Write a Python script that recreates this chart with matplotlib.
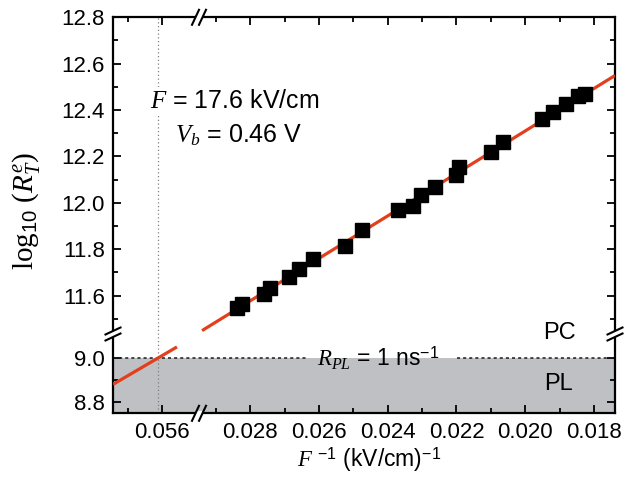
import numpy as np
import matplotlib
matplotlib.use('Agg')
import matplotlib.pyplot as plt
from matplotlib.ticker import FixedLocator, FormatStrFormatter

plt.rcParams['font.family'] = ['Liberation Sans', 'DejaVu Sans']
plt.rcParams['mathtext.fontset'] = 'custom'
plt.rcParams['mathtext.rm'] = 'Liberation Serif'
plt.rcParams['mathtext.it'] = 'Liberation Serif:italic'
plt.rcParams['mathtext.sf'] = 'Liberation Sans'
plt.rcParams['mathtext.bf'] = 'Liberation Serif:bold'

# ---------------- data ----------------
inv_field = [0.028378, 0.028233, 0.027593, 0.027433, 0.026866, 0.026590,
             0.026169, 0.025253, 0.024744, 0.023698, 0.023262, 0.023044,
             0.022622, 0.022026, 0.021924, 0.020994, 0.020660, 0.019512,
             0.019192, 0.018801, 0.018452, 0.018262]
log_rate = [11.545, 11.564, 11.605, 11.631, 11.681, 11.716,
            11.757, 11.815, 11.884, 11.971, 11.986, 12.032,
            12.068, 12.118, 12.153, 12.218, 12.261, 12.361,
            12.393, 12.426, 12.462, 12.469]

fit_slope = -91.6
fit_intercept = 14.142
fit_x_upper = [0.0294, 0.01739]
fit_x_lower = [0.05743, 0.05557]
R_PL_level = 9.0

x_segments = [(0.01739, 0.02946), (0.0549, 0.05743)]
x_rates = [34400, 34400]
y_segments = [(8.75, 9.106), (11.43, 12.8)]
y_rates = [220, 232]

x_major = [0.056, 0.028, 0.026, 0.024, 0.022, 0.020, 0.018]
x_minor = [0.057, 0.029, 0.027, 0.025, 0.023, 0.021, 0.019]
y_major = [8.8, 9.0, 11.6, 11.8, 12.0, 12.2, 12.4, 12.6, 12.8]
y_minor = [8.9, 11.5, 11.7, 11.9, 12.1, 12.3, 12.5, 12.7]


def piecewise(segments, rates):
    xp, up = [], []
    u = 0.0
    for (a, b), r in zip(segments, rates):
        if xp:
            u += 1e-3
        xp += [a, b]
        up += [u, u + (b - a) * r]
        u = up[-1]
    xp_e = np.concatenate([[xp[0] - 10], xp, [xp[-1] + 10]])
    up_e = np.concatenate([[up[0] - 10 * rates[0]], up, [up[-1] + 10 * rates[-1]]])

    def fwd(v):
        return np.interp(np.asarray(v, float), xp_e, up_e)

    def inv(w):
        return np.interp(np.asarray(w, float), up_e, xp_e)
    return fwd, inv


fig = plt.figure(figsize=(6.24, 4.8), dpi=100)
ax = fig.add_axes([113 / 624, 1 - 413.3 / 480, 502 / 624, 396 / 480])

fx, ix = piecewise(x_segments, x_rates)
fy, iy = piecewise(y_segments, y_rates)
ax.set_xscale('function', functions=(fx, ix))
ax.set_yscale('function', functions=(fy, iy))
ax.set_xlim(x_segments[-1][1], x_segments[0][0])
ax.set_ylim(y_segments[0][0], y_segments[-1][1])

ax.xaxis.set_major_locator(FixedLocator(x_major))
ax.xaxis.set_minor_locator(FixedLocator(x_minor))
ax.yaxis.set_major_locator(FixedLocator(y_major))
ax.yaxis.set_minor_locator(FixedLocator(y_minor))
ax.xaxis.set_major_formatter(FormatStrFormatter('%.3f'))
ax.yaxis.set_major_formatter(FormatStrFormatter('%.1f'))

ax.tick_params(which='both', direction='in', top=True, right=True,
               width=1.3, labelsize=16, colors='black')
ax.tick_params(which='major', length=6, pad=6)
ax.tick_params(which='minor', length=3.5)
for s in ax.spines.values():
    s.set_linewidth(1.6)

# gray PL region
ax.axhspan(y_segments[0][0], R_PL_level, color='#bfc0c4', lw=0, zorder=0)

# vertical dotted marker at crossing
x_cross = (R_PL_level - fit_intercept) / fit_slope
ax.axvline(x_cross, color='#808080', lw=0.9, ls=(0, (1, 2)), zorder=1)

# fit line
fxu = np.array(fit_x_upper)
fxl = np.array(fit_x_lower)
ax.plot(fxu, fit_intercept + fit_slope * fxu, color='#e2401c', lw=2.3,
        solid_capstyle='butt', zorder=3)
ax.plot(fxl, fit_intercept + fit_slope * fxl, color='#e2401c', lw=2.3,
        solid_capstyle='butt', zorder=3)

# data
ax.plot(inv_field, log_rate, ls='none', marker='s', ms=10.5,
        color='black', mec='black', zorder=4)

# texts
ax.text(0.0737, 0.770, r'$F$ = 17.6 kV/cm', transform=ax.transAxes,
        fontsize=18, va='baseline', ha='left', zorder=5,
        bbox=dict(fc='white', ec='none', pad=2))
ax.text(0.1235, 0.685, r'$V_b$ = 0.46 V', transform=ax.transAxes,
        fontsize=18, va='baseline', ha='left', zorder=5)
rpl = ax.text(0.406, 0.118, r'$R_{PL}$ = 1 ns$^{\mathsf{-1}}$',
              transform=ax.transAxes, fontsize=16.5, va='baseline', ha='left',
              zorder=5)
ax.text(0.889, 0.188, 'PC', transform=ax.transAxes, fontsize=17,
        va='baseline', ha='center')
ax.text(0.887, 0.059, 'PL', transform=ax.transAxes, fontsize=17,
        va='baseline', ha='center')

ax.set_xlabel(r'$F$ $^{\mathsf{-1}}$ (kV/cm)$^{\mathsf{-1}}$', fontsize=16.5)
ax.xaxis.set_label_coords(0.51, -0.08)
ax.set_ylabel(r'$\mathrm{log}_{\mathsf{10}}\ (R^{e}_{T})$', fontsize=21)
ax.yaxis.set_label_coords(-0.142, 0.51)

# horizontal dotted line at R_PL, interrupted by its label
fig.canvas.draw()
bb = rpl.get_window_extent()
inv_t = ax.transData.inverted()
xa = inv_t.transform((bb.x0 - 10, 0))[0]
xb = inv_t.transform((bb.x1 + 18, 0))[0]
xl = ax.get_xlim()
ax.hlines(R_PL_level, xl[0], xa, colors='#1a1a1a', lw=1.1, ls=(0, (2, 2)), zorder=2)
ax.hlines(R_PL_level, xb, xl[1], colors='#1a1a1a', lw=1.1, ls=(0, (2, 2)), zorder=2)

# break marks
W = 502.0
H = 396.0
xb_frac = (199 - 113) / W
yb_frac = (413.3 - 334) / H


def xbreak(yfrac):
    ax.plot([xb_frac - 3 / W, xb_frac + 3 / W], [yfrac, yfrac], color='white',
            lw=3, transform=ax.transAxes, clip_on=False, zorder=10,
            solid_capstyle='butt')
    for off in (-3.5, 3.5):
        c = xb_frac + off / W
        ax.plot([c - 3.5 / W, c + 3.5 / W], [yfrac - 7.5 / H, yfrac + 7.5 / H],
                color='black', lw=1.5, transform=ax.transAxes, clip_on=False,
                zorder=11)


def ybreak(xfrac):
    ax.plot([xfrac, xfrac], [yb_frac - 3 / H, yb_frac + 3 / H], color='white',
            lw=3, transform=ax.transAxes, clip_on=False, zorder=10,
            solid_capstyle='butt')
    for off in (-3, 3):
        c = yb_frac + off / H
        ax.plot([xfrac - 7.5 / W, xfrac + 7.5 / W], [c - 3.5 / H, c + 3.5 / H],
                color='black', lw=1.5, transform=ax.transAxes, clip_on=False,
                zorder=11)


xbreak(0.0)
xbreak(1.0)
ybreak(0.0)
ybreak(1.0)

fig.savefig('out.png', dpi=100, facecolor='white')
